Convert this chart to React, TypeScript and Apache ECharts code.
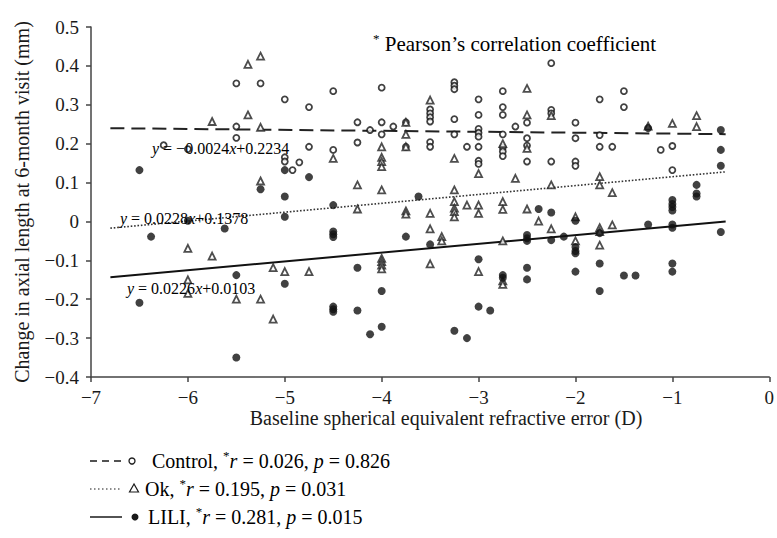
import React, { useEffect, useRef } from "react";
import * as echarts from "echarts";

// ---- data ----
const controlPoints: number[][] = [
  [-5.5, 0.355], [-5.25, 0.355], [-5.5, 0.244], [-5.5, 0.215], [-6.25, 0.196], [-6.0, 0.186],
  [-5.0, 0.314], [-4.75, 0.294], [-4.5, 0.335], [-4.0, 0.344], [-4.25, 0.255], [-4.12, 0.235],
  [-4.0, 0.255], [-4.0, 0.224], [-3.88, 0.244], [-3.75, 0.255], [-3.75, 0.192],
  [-3.5, 0.288], [-3.5, 0.278], [-3.5, 0.268], [-3.5, 0.257], [-3.5, 0.204], [-3.5, 0.192],
  [-4.75, 0.192], [-4.5, 0.184], [-4.25, 0.203], [-5.0, 0.165], [-5.0, 0.154], [-4.92, 0.132], [-4.85, 0.152],
  [-3.25, 0.358], [-3.25, 0.349], [-3.25, 0.34], [-3.25, 0.263], [-3.25, 0.224], [-3.12, 0.192],
  [-3.0, 0.314], [-3.0, 0.274], [-3.0, 0.238], [-3.0, 0.228], [-3.0, 0.218], [-3.0, 0.192], [-3.0, 0.156], [-3.0, 0.148],
  [-2.75, 0.335], [-2.75, 0.294], [-2.75, 0.274], [-2.75, 0.224], [-2.75, 0.19], [-2.75, 0.18], [-2.75, 0.168],
  [-2.62, 0.244], [-2.5, 0.254], [-2.5, 0.214], [-2.5, 0.195], [-2.5, 0.154],
  [-2.25, 0.407], [-2.25, 0.287], [-2.25, 0.278], [-2.25, 0.154],
  [-2.0, 0.254], [-2.0, 0.214], [-2.0, 0.154], [-2.0, 0.143],
  [-1.75, 0.314], [-1.5, 0.335], [-1.5, 0.294], [-1.75, 0.222], [-1.75, 0.192], [-1.62, 0.192],
  [-1.12, 0.184], [-1.0, 0.194], [-1.0, 0.132],
];

const okPoints: number[][] = [
  [-5.38, 0.404], [-5.25, 0.425], [-5.38, 0.274], [-5.75, 0.257], [-5.25, 0.242], [-5.25, 0.104],
  [-3.75, 0.255], [-3.75, 0.224], [-3.75, 0.192], [-3.5, 0.312], [-4.5, 0.162], [-4.0, 0.192],
  [-4.0, 0.165], [-4.0, 0.154], [-4.0, 0.141], [-4.25, 0.094], [-4.0, 0.081],
  [-3.25, 0.162], [-3.25, 0.081], [-3.0, 0.123], [-2.75, 0.2], [-2.62, 0.111], [-2.5, 0.342],
  [-2.5, 0.274], [-2.5, 0.188], [-2.25, 0.272], [-2.25, 0.094],
  [-1.0, 0.252], [-0.75, 0.272], [-0.75, 0.244], [-1.75, 0.115], [-1.75, 0.094], [-1.62, 0.074], [-1.25, 0.245],
  [-6.0, -0.069], [-5.75, -0.089], [-5.12, -0.119], [-6.0, -0.15], [-6.0, -0.185], [-5.5, -0.2],
  [-5.25, -0.2], [-5.12, -0.251],
  [-4.25, 0.032], [-3.75, 0.027], [-3.75, 0.019], [-3.5, 0.021], [-3.5, -0.019], [-5.0, -0.129],
  [-4.75, -0.129], [-4.0, -0.095], [-4.0, -0.103], [-4.0, -0.112], [-4.0, -0.122], [-3.5, -0.109],
  [-3.25, 0.051], [-3.25, 0.034], [-3.25, 0.025], [-3.25, 0.012], [-3.12, 0.042], [-3.0, 0.042],
  [-3.0, 0.021], [-2.75, 0.051], [-2.75, 0.031], [-3.38, -0.039], [-3.38, -0.05], [-2.5, 0.032],
  [-2.38, 0.001], [-2.25, -0.019], [-2.0, 0.012], [-2.0, -0.05], [-2.75, -0.05], [-3.0, -0.129],
  [-2.75, -0.153], [-2.75, -0.162],
  [-1.75, -0.016], [-1.75, -0.026], [-1.62, -0.009], [-1.75, -0.061],
];

const liliPoints: number[][] = [
  [-6.5, 0.132], [-5.25, 0.083], [-5.0, 0.132], [-4.75, 0.114], [-5.0, 0.064], [-3.62, 0.064],
  [-1.25, 0.24], [-0.5, 0.235], [-0.5, 0.184], [-0.5, 0.143], [-0.75, 0.094], [-0.75, 0.072],
  [-0.75, 0.064], [-1.0, 0.055], [-1.0, 0.045], [-1.0, 0.037], [-1.0, 0.028],
  [-6.0, 0.002], [-6.38, -0.039], [-5.62, -0.018], [-5.5, -0.138], [-6.5, -0.209], [-5.5, -0.35],
  [-4.5, 0.042], [-5.0, 0.012], [-4.5, -0.026], [-4.5, -0.033], [-4.5, -0.04], [-3.75, -0.039],
  [-3.5, -0.059], [-4.25, -0.119], [-5.0, -0.16], [-4.0, -0.179], [-4.5, -0.219], [-4.5, -0.226],
  [-4.5, -0.232], [-4.25, -0.229], [-4.0, -0.271], [-4.12, -0.29],
  [-2.38, 0.032], [-2.25, 0.023], [-2.25, -0.048], [-2.12, -0.039], [-2.0, 0.002], [-2.0, -0.066],
  [-2.0, -0.076], [-2.0, -0.082], [-2.0, -0.129], [-2.5, -0.035], [-2.5, -0.043], [-2.5, -0.05],
  [-3.0, -0.097], [-2.75, -0.138], [-2.75, -0.145], [-2.5, -0.119], [-2.5, -0.149], [-3.0, -0.219],
  [-2.88, -0.229], [-3.25, -0.281], [-3.12, -0.3],
  [-1.75, -0.03], [-1.25, -0.008], [-1.0, -0.008], [-1.0, -0.016], [-0.5, -0.027], [-1.75, -0.108],
  [-1.5, -0.139], [-1.38, -0.139], [-1.0, -0.108], [-1.0, -0.129], [-1.75, -0.179],
];

// regression fits: [slope, intercept]
const controlFit = [-0.0024, 0.2234];
const okFit = [0.0228, 0.1378];
const liliFit = [0.0226, 0.0103];
const fitRange = [-6.8, -0.45];

const xTicks = { min: -7, max: 0, interval: 1 };
const yTicks = { min: -0.4, max: 0.5, interval: 0.1 };

const FONT = '"Liberation Serif", "Times New Roman", serif';
const INK = "#1a1a1a";

const fitLine = (fit: number[]) =>
  fitRange.map((x) => [x, fit[0] * x + fit[1]]);

const minus = (v: number, digits: number) => {
  if (Math.abs(v) < 1e-9) return "0";
  const s = Math.abs(v).toFixed(digits);
  return v < 0 ? "\u2212" + s : s;
};

export default function App() {
  const ref = useRef<HTMLDivElement>(null);

  useEffect(() => {
    if (!ref.current) return;
    const chart = echarts.init(ref.current, undefined, { renderer: "svg" });

    const baseText = { fontFamily: FONT, fill: INK };
    const eqRich = {
      n: { fontFamily: FONT, fontSize: 16, color: INK },
      i: { fontFamily: FONT, fontSize: 16, color: INK, fontStyle: "italic" },
    };
    const legRich = {
      n: { fontFamily: FONT, fontSize: 20, color: INK, lineHeight: 24 },
      i: { fontFamily: FONT, fontSize: 20, color: INK, fontStyle: "italic", lineHeight: 24 },
      s: { fontFamily: FONT, fontSize: 13, color: INK, verticalAlign: "top", lineHeight: 24 },
    };

    const legendRow = (y: number, textX: number, lineType: any, symbol: any, label: string) => [
      {
        type: "line",
        shape: { x1: 90, y1: y, x2: 122, y2: y },
        style: {
          stroke: INK,
          lineWidth: lineType === "dot" ? 1.2 : 1.5,
          lineDash: lineType === "dash" ? [7, 5] : lineType === "dot" ? [1.5, 2.5] : null,
        },
      },
      symbol,
      {
        type: "text",
        x: textX,
        y,
        style: { text: label, rich: legRich, verticalAlign: "middle", align: "left" },
      },
    ];

    const option: any = {
      animation: false,
      grid: { left: 91, right: 7, top: 27, bottom: 161 },
      xAxis: {
        type: "value",
        min: xTicks.min,
        max: xTicks.max,
        interval: xTicks.interval,
        axisLine: { show: true, onZero: false, lineStyle: { color: "#444", width: 1.5 } },
        axisTick: { show: true, length: 5, lineStyle: { color: "#444", width: 1.5 } },
        splitLine: { show: false },
        axisLabel: {
          margin: 11,
          fontFamily: FONT,
          fontSize: 19,
          color: INK,
          formatter: (v: number) => minus(v, 0),
        },
      },
      yAxis: {
        type: "value",
        min: yTicks.min,
        max: yTicks.max,
        interval: yTicks.interval,
        axisLine: { show: true, onZero: false, lineStyle: { color: "#444", width: 1.5 } },
        axisTick: { show: true, length: 5, lineStyle: { color: "#444", width: 1.5 } },
        splitLine: { show: false },
        axisLabel: {
          margin: 12,
          fontFamily: FONT,
          fontSize: 19,
          color: INK,
          formatter: (v: number) => minus(v, 1),
        },
      },
      series: [
        {
          type: "line",
          data: fitLine(controlFit),
          showSymbol: false,
          silent: true,
          lineStyle: { color: "#222", width: 2, type: [14, 7] },
          z: 1,
        },
        {
          type: "line",
          data: fitLine(okFit),
          showSymbol: false,
          silent: true,
          lineStyle: { color: "#333", width: 1.6, type: [1.6, 1.8] },
          z: 1,
        },
        {
          type: "line",
          data: fitLine(liliFit),
          showSymbol: false,
          silent: true,
          lineStyle: { color: "#111", width: 2 },
          z: 1,
        },
        {
          name: "Control",
          type: "scatter",
          data: controlPoints,
          symbol: "circle",
          symbolSize: 6,
          itemStyle: { color: "#fff", borderColor: "#111", borderWidth: 1.8 },
          z: 3,
        },
        {
          name: "Ok",
          type: "scatter",
          data: okPoints,
          symbol: "triangle",
          symbolSize: 7,
          itemStyle: { color: "#fff", borderColor: "#222", borderWidth: 1.8 },
          z: 3,
        },
        {
          name: "LILI",
          type: "scatter",
          data: liliPoints,
          symbol: "circle",
          symbolSize: 8,
          itemStyle: { color: "#111" },
          z: 4,
        },
      ],
      graphic: [
        // y axis name
        {
          type: "text",
          x: 22,
          y: 202,
          rotation: Math.PI / 2,
          style: {
            ...baseText,
            text: "Change in axial length at 6-month visit (mm)",
            fontSize: 20,
            align: "center",
            verticalAlign: "middle",
          },
        },
        // x axis name
        {
          type: "text",
          x: 446,
          y: 418,
          style: {
            ...baseText,
            text: "Baseline spherical equivalent refractive error (D)",
            fontSize: 20,
            align: "center",
            verticalAlign: "middle",
          },
        },
        // annotation
        {
          type: "text",
          x: 373,
          y: 44,
          style: {
            text: "{s|*}{n| Pearson\u2019s correlation coefficient}",
            rich: {
              n: { fontFamily: FONT, fontSize: 21, color: INK, lineHeight: 25 },
              s: { fontFamily: FONT, fontSize: 13, color: INK, verticalAlign: "top", lineHeight: 25 },
            },
            align: "left",
            verticalAlign: "middle",
          },
        },
        // equations
        {
          type: "text",
          x: 152,
          y: 148,
          style: {
            text: "{i|y}{n| = \u22120.0024}{i|x}{n|+0.2234}",
            rich: eqRich,
            align: "left",
            verticalAlign: "middle",
          },
          z: 5,
        },
        {
          type: "text",
          x: 120,
          y: 218,
          style: {
            text: "{i|y}{n| = 0.0228}{i|x}{n|+0.1378}",
            rich: eqRich,
            align: "left",
            verticalAlign: "middle",
          },
          z: 5,
        },
        {
          type: "text",
          x: 127,
          y: 288,
          style: {
            text: "{i|y}{n| = 0.0226}{i|x}{n|+0.0103}",
            rich: eqRich,
            align: "left",
            verticalAlign: "middle",
          },
          z: 5,
        },
        // legend
        ...legendRow(
          461,
          152,
          "dash",
          { type: "circle", shape: { cx: 132, cy: 461, r: 3 }, style: { fill: "#fff", stroke: INK, lineWidth: 1.3 } },
          "{n|Control, }{s|*}{i|r}{n| = 0.026, }{i|p}{n| = 0.826}"
        ),
        ...legendRow(
          489,
          145,
          "dot",
          {
            type: "polygon",
            shape: { points: [[134, 484], [129.5, 492], [138.5, 492]] },
            style: { fill: "#fff", stroke: INK, lineWidth: 1.2 },
          },
          "{n|Ok, }{s|*}{i|r}{n| = 0.195, }{i|p}{n| = 0.031}"
        ),
        ...legendRow(
          517,
          148,
          "solid",
          { type: "circle", shape: { cx: 135, cy: 517, r: 3.5 }, style: { fill: INK } },
          "{n|LILI, }{s|*}{i|r}{n| = 0.281, }{i|p}{n| = 0.015}"
        ),
      ],
    };

    chart.setOption(option);
    return () => chart.dispose();
  }, []);

  return (
    <div
      ref={ref}
      style={{ position: "absolute", left: 0, top: 0, width: 777, height: 538 }}
    />
  );
}
